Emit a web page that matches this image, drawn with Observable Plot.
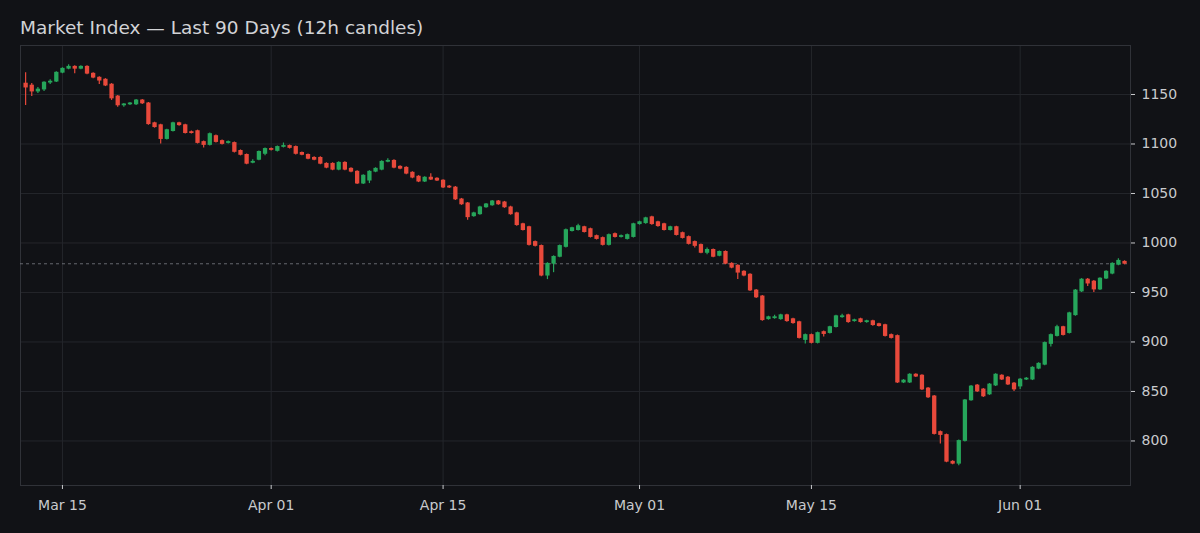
<!DOCTYPE html>
<html>
<head>
<meta charset="utf-8">
<script src="https://cdn.jsdelivr.net/npm/d3@7"></script>
<script src="https://cdn.jsdelivr.net/npm/@observablehq/plot@0.6"></script>
<style>
  html, body { margin: 0; padding: 0; background: #111216; }
  #wrap { position: relative; width: 1200px; height: 533px; background: #111216; overflow: hidden; }
  #title { position: absolute; left: 20px; top: 17px; font-family: "DejaVu Sans", sans-serif; font-size: 18.5px; color: #d2d3d6; white-space: nowrap; }
  #chart svg { display: block; }
</style>
</head>
<body>
<div id="wrap">
  <div id="chart"></div>
  <div id="title">Market Index — Last 90 Days (12h candles)</div>
</div>
<script>
const titleText = "Market Index — Last 90 Days (12h candles)";
const startDate = "2024-03-12T00:00:00Z";   // first 12h candle
const stepHours = 12;

const opens = [
  1161,1159,1153,1155,1162,1163,1172,1176,1178,1176,1178,1171,1167,1165,1160,1148,1139,1140,1140,1144,
  1141,1121,1119,1105,1113,1121,1119,1112,1113,1102,1099,1108,1103,1101,1101,1093,1089,1081,1084,1090,
  1095,1093,1097,1098,1097,1091,1089,1086,1086,1080,1080,1074,1081,1075,1072,1060,1063,1072,1074,1082,
  1083,1077,1076,1071,1067,1062,1066,1065,1063,1057,1056,1044,1040,1027,1029,1036,1038,1042,1041,1036,
  1030,1019,1016,1001,997,967,979,986,996,1012,1013,1016,1014,1007,1005,998,1009,1006,1004,1006,
  1019,1020,1026,1021,1019,1013,1016,1010,1006,1001,998,990,993,987,991,979,977,971,968,952,
  946,923,924,923,927,923,920,902,907,899,910,909,915,925,927,921,923,920,921,918,
  917,907,906,859,859,867,866,853,845,809,806,779,777,800,841,856,852,847,856,866,
  864,858,855,862,862,873,877,898,906,915,909,927,951,963,961,953,964,969,978,981
];
const closes = [
  1157,1153,1155,1162,1163,1172,1176,1178,1176,1178,1171,1167,1164,1159,1146,1139,1140,1141,1144,1141,
  1120,1117,1105,1114,1121,1119,1111,1111,1101,1099,1110,1102,1100,1102,1092,1089,1080,1082,1092,1095,
  1094,1097,1098,1096,1090,1089,1085,1084,1080,1076,1074,1081,1074,1072,1060,1068,1072,1075,1082,1083,
  1076,1075,1070,1066,1062,1066,1064,1063,1056,1056,1044,1039,1026,1030,1036,1039,1042,1039,1036,1029,
  1018,1013,998,997,967,979,986,997,1013,1015,1017,1011,1006,1004,998,1008,1006,1007,1008,1019,
  1021,1025,1019,1017,1013,1016,1008,1005,999,997,990,993,986,991,979,975,970,967,952,945,
  922,925,925,927,921,919,904,907,899,909,908,915,926,926,920,922,920,921,917,916,
  906,904,859,861,867,865,852,844,807,806,779,777,800,841,855,850,845,857,867,862,
  857,852,862,863,874,878,899,907,915,907,929,952,963,959,953,964,971,979,982,979
];
const highs = [
  1172,1161,1157,1163,1165,1173,1177,1180,1179,1179,1179,1172,1168,1166,1161,1149,1141,1142,1145,1145,
  1142,1122,1120,1115,1122,1122,1120,1113,1114,1103,1111,1109,1104,1103,1102,1094,1090,1084,1093,1096,
  1096,1098,1101,1099,1098,1092,1090,1087,1087,1081,1081,1082,1082,1076,1073,1069,1073,1076,1083,1085,
  1084,1078,1077,1072,1068,1067,1070,1066,1064,1058,1057,1045,1041,1031,1037,1040,1043,1043,1042,1037,
  1031,1020,1017,1002,998,980,987,998,1014,1016,1019,1017,1015,1008,1006,1009,1010,1008,1009,1020,
  1022,1026,1027,1022,1020,1017,1017,1011,1007,1002,999,995,994,992,992,980,978,972,969,953,
  947,926,927,928,928,924,921,908,908,910,911,916,927,928,928,923,924,922,922,919,
  918,908,907,862,868,868,867,854,846,810,807,780,801,842,856,857,853,858,868,867,
  865,859,863,864,875,879,900,908,917,916,930,953,964,964,962,965,972,980,984,982
];
const lows = [
  1139,1148,1151,1153,1160,1162,1171,1175,1171,1175,1170,1166,1160,1158,1144,1137,1137,1139,1139,1140,
  1119,1116,1100,1104,1112,1118,1110,1110,1100,1096,1098,1101,1099,1100,1091,1088,1079,1080,1083,1088,
  1093,1092,1096,1095,1089,1088,1084,1083,1079,1075,1073,1073,1073,1071,1059,1059,1060,1071,1073,1081,
  1075,1074,1069,1065,1061,1061,1063,1062,1055,1055,1043,1038,1023,1026,1028,1035,1037,1038,1035,1028,
  1017,1012,997,996,966,963,970,985,995,1011,1012,1010,1005,1003,997,997,1005,1005,1003,1005,
  1018,1019,1018,1016,1012,1012,1007,1004,998,995,989,988,985,986,978,974,963,966,951,944,
  921,922,923,922,920,918,903,898,898,898,905,908,914,924,919,920,919,919,916,915,
  905,903,858,858,858,864,851,843,806,797,778,776,775,799,840,849,844,846,855,861,
  856,850,852,861,861,872,876,895,905,906,908,926,950,956,950,952,963,968,977,978
];
const xTickDates = ["2024-03-15","2024-04-01","2024-04-15","2024-05-01","2024-05-15","2024-06-01"];
const yTicks = [800, 850, 900, 950, 1000, 1050, 1100, 1150];

const t0 = new Date(startDate).getTime();
const candles = opens.map((o, i) => ({
  date: new Date(t0 + i * stepHours * 3600e3),
  open: o, close: closes[i], high: highs[i], low: lows[i]
}));
const lastClose = closes[closes.length - 1];
const xTicks = xTickDates.map(s => new Date(s + "T00:00:00Z"));

const UP = "#26a65b", DOWN = "#e8493b";
const colorOf = d => d.close >= d.open ? UP : DOWN;

const chart = Plot.plot({
  width: 1200,
  height: 533,
  marginTop: 45,
  marginLeft: 20,
  marginRight: 70,
  marginBottom: 48,
  style: { background: "transparent", color: "#c9cacd", fontFamily: "DejaVu Sans, sans-serif", fontSize: "14px" },
  x: { type: "utc", domain: [new Date("2024-03-11T14:00:00Z"), new Date("2024-06-09T23:40:00Z")] },
  y: { domain: [755, 1199.5] },
  marks: [
    Plot.gridY(yTicks, { stroke: "#24262b", strokeOpacity: 1 }),
    Plot.gridX(xTicks, { stroke: "#24262b", strokeOpacity: 1 }),
    Plot.frame({ stroke: "#303238" }),
    Plot.ruleY([lastClose], { stroke: "#7a7d84", strokeDasharray: "3,3", strokeWidth: 0.8 }),
    Plot.ruleX(candles, { x: "date", y1: "low", y2: "high", stroke: colorOf, strokeWidth: 1.2 }),
    Plot.ruleX(candles, {
      x: "date",
      y1: d => Math.min(d.open, d.close) - 0.4,
      y2: d => Math.max(d.open, d.close) + 0.4,
      stroke: colorOf, strokeWidth: 4.3
    }),
    Plot.axisY(yTicks, { anchor: "right", tickSize: 4, tickPadding: 7, stroke: "#c9cacd", fill: "#c9cacd", fontSize: 14, tickFormat: d => String(d), label: null }),
    Plot.axisX(xTicks, {
      anchor: "bottom", tickSize: 4, tickPadding: 11, stroke: "#c9cacd", fill: "#c9cacd", fontSize: 14,
      tickFormat: d3.utcFormat("%b %d"), label: null
    })
  ]
});
document.getElementById("chart").appendChild(chart);
document.getElementById("title").textContent = titleText;
</script>
</body>
</html>
